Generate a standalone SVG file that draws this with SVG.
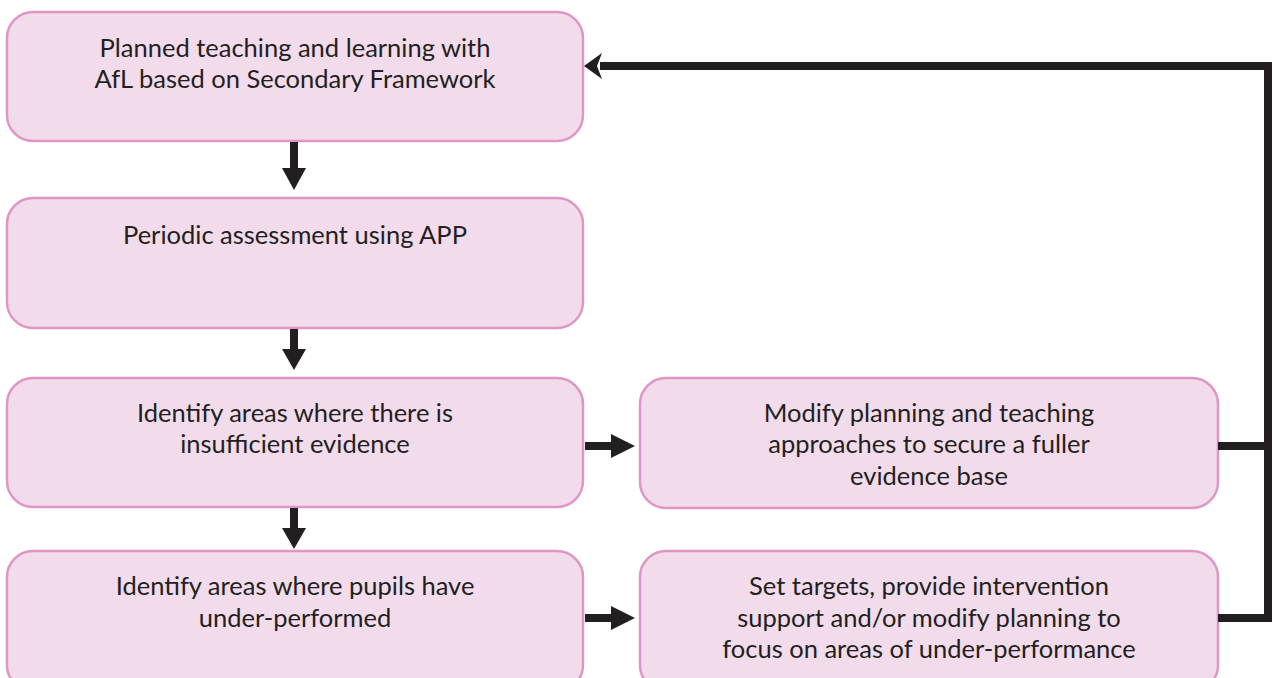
<svg xmlns="http://www.w3.org/2000/svg" width="1273" height="678" viewBox="0 0 1273 678">
  <defs>
    <style>
      .box { fill: #f2dbeb; stroke: #e096c4; stroke-width: 2.5; }
      .lbl { font-family: "Lato", "Liberation Sans", sans-serif; font-size: 25.5px; fill: #231f20; text-anchor: middle; }
      .wire { fill: none; stroke: #231f20; stroke-width: 8; }
      .head { fill: #231f20; }
    </style>
  </defs>
  <rect width="1273" height="678" fill="#ffffff"/>

  <g id="planned">
    <rect class="box" x="7" y="12" width="576" height="129" rx="26"/>
    <text class="lbl" x="295" y="57">Planned teaching and learning with</text>
    <text class="lbl" x="295" y="88">AfL based on Secondary Framework</text>
  </g>

  <g id="periodic">
    <rect class="box" x="7" y="198" width="576" height="130" rx="26"/>
    <text class="lbl" x="295" y="244">Periodic assessment using APP</text>
  </g>

  <g id="insufficient">
    <rect class="box" x="7" y="378" width="576" height="129" rx="26"/>
    <text class="lbl" x="295" y="422">Identify areas where there is</text>
    <text class="lbl" x="295" y="453">insufficient evidence</text>
  </g>

  <g id="underperformed">
    <rect class="box" x="7" y="551" width="576" height="140" rx="26"/>
    <text class="lbl" x="295" y="595">Identify areas where pupils have</text>
    <text class="lbl" x="295" y="627">under-performed</text>
  </g>

  <g id="modify">
    <rect class="box" x="640" y="378" width="578" height="130" rx="26"/>
    <text class="lbl" x="929" y="422">Modify planning and teaching</text>
    <text class="lbl" x="929" y="453">approaches to secure a fuller</text>
    <text class="lbl" x="929" y="485">evidence base</text>
  </g>

  <g id="targets">
    <rect class="box" x="640" y="551" width="578" height="140" rx="26"/>
    <text class="lbl" x="929" y="595">Set targets, provide intervention</text>
    <text class="lbl" x="929" y="627">support and/or modify planning to</text>
    <text class="lbl" x="929" y="658">focus on areas of under-performance</text>
  </g>

  <g id="connectors">
    <!-- downward flow -->
    <line class="wire" x1="294" y1="142" x2="294" y2="170"/>
    <polygon class="head" points="282,168 306,168 294,190"/>
    <line class="wire" x1="294" y1="329" x2="294" y2="351"/>
    <polygon class="head" points="282,349 306,349 294,370"/>
    <line class="wire" x1="294" y1="508" x2="294" y2="530"/>
    <polygon class="head" points="282,528 306,528 294,549"/>

    <!-- sideways to the action boxes -->
    <line class="wire" x1="585" y1="446" x2="614" y2="446"/>
    <polygon class="head" points="611,434 611,458 635,446"/>
    <line class="wire" x1="585" y1="618" x2="614" y2="618"/>
    <polygon class="head" points="611,606 611,630 635,618"/>

    <!-- feedback loop back to planning -->
    <polyline class="wire" points="1218,446 1268,446"/>
    <polyline class="wire" points="1218,618 1268,618 1268,66 600,66"/>
    <polygon class="head" points="584,66 602,53 597,66 602,79"/>
  </g>
</svg>
